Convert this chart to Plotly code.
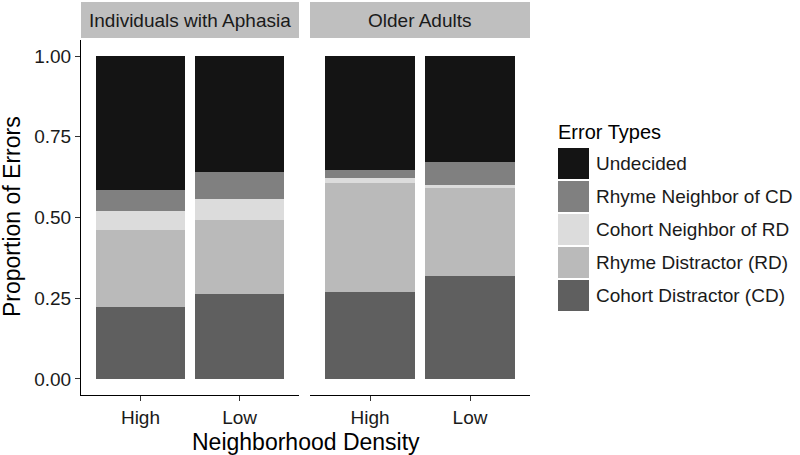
import plotly.graph_objects as go

# ---- data ----
groups = ["Individuals with Aphasia", "Older Adults"]
density = ["High", "Low"]
error_types = ["Cohort Distractor (CD)", "Rhyme Distractor (RD)",
               "Cohort Neighbor of RD", "Rhyme Neighbor of CD", "Undecided"]
# proportions per group [High, Low]
aphasia = {
    "Cohort Distractor (CD)": [0.224, 0.263],
    "Rhyme Distractor (RD)": [0.237, 0.228],
    "Cohort Neighbor of RD": [0.060, 0.067],
    "Rhyme Neighbor of CD": [0.065, 0.084],
    "Undecided": [0.414, 0.358],
}
older = {
    "Cohort Distractor (CD)": [0.270, 0.320],
    "Rhyme Distractor (RD)": [0.338, 0.270],
    "Cohort Neighbor of RD": [0.013, 0.011],
    "Rhyme Neighbor of CD": [0.025, 0.070],
    "Undecided": [0.354, 0.329],
}
colors = {
    "Cohort Distractor (CD)": "#5f5f5f",
    "Rhyme Distractor (RD)": "#bababa",
    "Cohort Neighbor of RD": "#dcdcdc",
    "Rhyme Neighbor of CD": "#808080",
    "Undecided": "#141414",
}
y_ticks = [0, 0.25, 0.5, 0.75, 1.0]

FONT = "Liberation Sans, Arial, Helvetica, sans-serif"
W, H = 800, 455
L, R, T, B = 81, 270, 40, 60
PW, PH = W - L - R, H - T - B


def px_x(p):
    return (p - L) / PW


def px_y(p):
    return (H - B - p) / PH


fig = go.Figure()
for data, xa in [(aphasia, "x"), (older, "x2")]:
    for et in error_types:
        fig.add_trace(go.Bar(
            x=density, y=data[et], name=et, xaxis=xa, yaxis="y",
            marker=dict(color=colors[et], line=dict(width=0)),
            width=0.9, showlegend=False,
            hovertemplate=et + ": %{y:.3f}<extra></extra>",
        ))

axis_common = dict(
    showline=True, linecolor="black", linewidth=1,
    ticks="outside", ticklen=5, tickcolor="#333333", tickwidth=1,
    showgrid=False, zeroline=False,
    tickfont=dict(family=FONT, size=19, color="#1a1a1a"),
    type="category", range=[-0.6, 1.6], fixedrange=True,
)
fig.update_layout(
    width=W, height=H,
    margin=dict(l=L, r=R, t=T, b=B, autoexpand=False),
    paper_bgcolor="white", plot_bgcolor="white",
    barmode="stack", bargap=0.1,
    font=dict(family=FONT, color="#1a1a1a"),
    xaxis=dict(domain=[0, px_x(299)], anchor="y", **axis_common),
    xaxis2=dict(domain=[px_x(310), 1], anchor="y", **axis_common),
    yaxis=dict(
        range=[-0.05, 1.05], tickvals=y_ticks, tickformat=".2f",
        showline=True, linecolor="black", linewidth=1,
        ticks="outside", ticklen=5, tickcolor="#333333",
        showgrid=False, zeroline=False,
        tickfont=dict(family=FONT, size=19, color="#1a1a1a"),
        fixedrange=True,
    ),
)

shapes = []
annotations = []
# facet strips
for g, xa in zip(groups, ["x", "x2"]):
    shapes.append(dict(type="rect", xref=xa + " domain", yref="paper",
                       x0=0, x1=1, y0=px_y(38), y1=px_y(2),
                       fillcolor="#bfbfbf", line=dict(width=0), layer="below"))
    annotations.append(dict(text=g, xref=xa + " domain", yref="paper",
                            x=0.5, y=px_y(20), showarrow=False,
                            font=dict(family=FONT, size=19, color="#1a1a1a"),
                            xanchor="center", yanchor="middle"))

# axis titles
annotations.append(dict(text="Neighborhood Density", xref="paper", yref="paper",
                        x=0.5, y=px_y(442), showarrow=False,
                        font=dict(family=FONT, size=23, color="black"),
                        xanchor="center", yanchor="middle"))
annotations.append(dict(text="Proportion of Errors", xref="paper", yref="paper",
                        x=px_x(12), y=px_y(217), showarrow=False, textangle=-90,
                        font=dict(family=FONT, size=23, color="black"),
                        xanchor="center", yanchor="middle"))

# legend (drawn manually to match large square keys)
annotations.append(dict(text="Error Types", xref="paper", yref="paper",
                        x=px_x(556), y=px_y(132), showarrow=False,
                        font=dict(family=FONT, size=20, color="black"),
                        xanchor="left", yanchor="middle"))
legend_order = list(reversed(error_types))
for i, et in enumerate(legend_order):
    top = 148 + i * 33
    shapes.append(dict(type="rect", xref="paper", yref="paper",
                       x0=px_x(558), x1=px_x(589), y0=px_y(top + 31), y1=px_y(top),
                       fillcolor=colors[et], line=dict(width=0)))
    annotations.append(dict(text=et, xref="paper", yref="paper",
                            x=px_x(594), y=px_y(top + 15.5), showarrow=False,
                            font=dict(family=FONT, size=19, color="#1a1a1a"),
                            xanchor="left", yanchor="middle"))

fig.update_layout(shapes=shapes, annotations=annotations)
fig.write_html(
    "out.html",
    config={"displayModeBar": False},
    post_script="document.body.style.margin='0';document.body.style.overflow='hidden';",
)
